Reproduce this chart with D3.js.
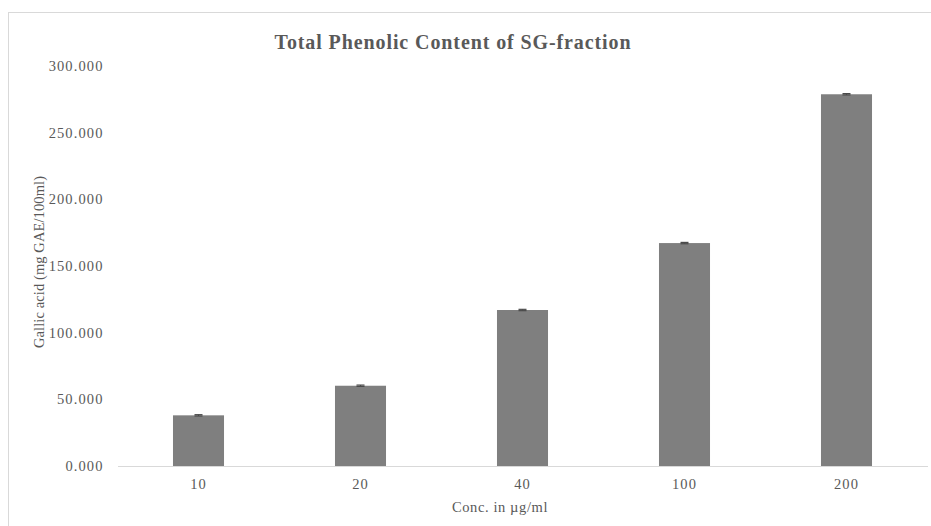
<!DOCTYPE html>
<html><head><meta charset="utf-8">
<script src="https://cdn.jsdelivr.net/npm/d3@7/dist/d3.min.js"></script>
<style>body{margin:0;background:#fff}svg{display:block}</style>
</head><body>
<svg id="c" width="931" height="526"></svg>
<script>
(function(){
const categories = ["10", "20", "40", "100", "200"];
const values = [38.0, 60.2, 117.0, 167.2, 278.8];
const errors = [0.5, 0.5, 0.5, 0.5, 0.5];
const yTicks = [0, 50, 100, 150, 200, 250, 300];
const title = "Total Phenolic Content of SG-fraction";
const xTitle = "Conc. in µg/ml";
const yTitle = "Gallic acid (mg GAE/100ml)";

const svg = d3.select("#c");
const font = "Liberation Serif, Times New Roman, serif";
const textCol = "#595959";

svg.append("rect").attr("x", 8.5).attr("y", 12.5).attr("width", 940).attr("height", 540)
  .attr("fill", "#fff").attr("stroke", "#d9d9d9").attr("stroke-width", 1);

const mLeft = 117.5, mRight = 927.5, mTop = 66, mBottom = 466;
const x = d3.scaleBand().domain(categories).range([mLeft, mRight]).paddingInner(0.685).paddingOuter(0.3425);
const y = d3.scaleLinear().domain([0, 300]).range([mBottom, mTop]);

svg.append("text").attr("x", 453).attr("y", 49).attr("text-anchor", "middle")
  .attr("font-family", font).attr("font-weight", "bold").attr("font-size", 20)
  .attr("letter-spacing", 0.9).attr("fill", textCol).text(title);

const ya = svg.append("g").attr("transform", `translate(${mLeft},0)`)
  .call(d3.axisLeft(y).tickValues(yTicks).tickSize(0).tickPadding(14).tickFormat(d3.format(".3f")));
ya.select(".domain").remove();
ya.selectAll("text").attr("font-family", font).attr("font-size", 14.5)
  .attr("letter-spacing", 1.1).attr("fill", textCol);

svg.append("g").selectAll("rect").data(values).join("rect")
  .attr("x", (d, i) => x(categories[i])).attr("width", x.bandwidth())
  .attr("y", d => y(d)).attr("height", d => mBottom - y(d)).attr("fill", "#7f7f7f");

const eg = svg.append("g").attr("stroke", "#4a4a4a").attr("stroke-width", 1.2);
values.forEach((v, i) => {
  const cx = x(categories[i]) + x.bandwidth() / 2;
  eg.append("line").attr("x1", cx).attr("x2", cx).attr("y1", y(v - errors[i])).attr("y2", y(v + errors[i]));
  eg.append("line").attr("x1", cx - 4).attr("x2", cx + 4).attr("y1", y(v + errors[i])).attr("y2", y(v + errors[i]));
  eg.append("line").attr("x1", cx - 4).attr("x2", cx + 4).attr("y1", y(v - errors[i])).attr("y2", y(v - errors[i]));
});

const xa = svg.append("g").attr("transform", `translate(0,${mBottom})`)
  .call(d3.axisBottom(x).tickSize(0).tickPadding(13));
xa.select(".domain").attr("stroke", "#d9d9d9").attr("stroke-width", 1.2);
xa.selectAll("text").attr("font-family", font).attr("font-size", 14.5)
  .attr("letter-spacing", 1.1).attr("fill", textCol);

svg.append("text").attr("x", 500).attr("y", 512).attr("text-anchor", "middle")
  .attr("font-family", font).attr("font-size", 14.5).attr("letter-spacing", 0.6)
  .attr("fill", textCol).text(xTitle);

svg.append("text").attr("transform", "translate(44,262) rotate(-90)").attr("text-anchor", "middle")
  .attr("font-family", font).attr("font-size", 14.5).attr("letter-spacing", 0.1)
  .attr("fill", textCol).text(yTitle);
})();
</script>
</body></html>
